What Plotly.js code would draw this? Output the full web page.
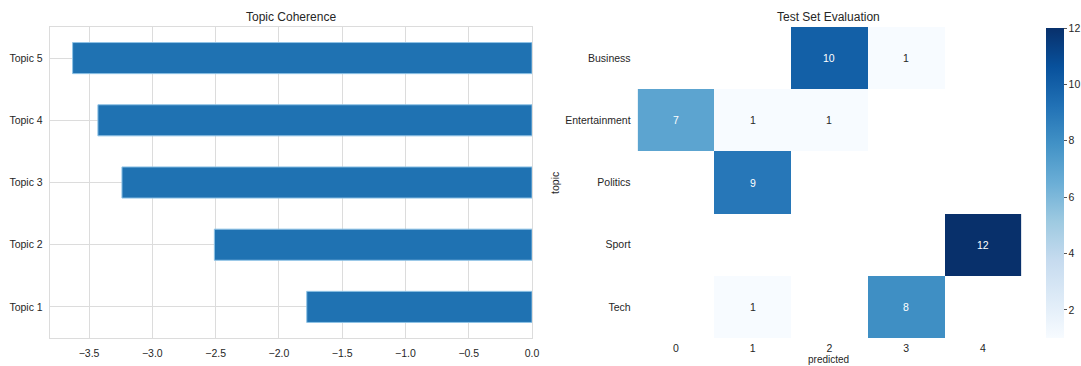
<!DOCTYPE html>
<html>
<head>
<meta charset="utf-8">
<script src="https://cdn.plot.ly/plotly-3.0.1.min.js"></script>
<style>html,body{margin:0;padding:0;background:#fff;}#chart{width:1081px;height:366px;}</style>
</head>
<body>
<div id="chart"></div>
<script>
// Left chart: topic coherence
const topics = ["Topic 1", "Topic 2", "Topic 3", "Topic 4", "Topic 5"];
const coherence = [-1.78, -2.51, -3.24, -3.43, -3.63];

// Right chart: confusion matrix (0 = masked)
const actualTopics = ["Business", "Entertainment", "Politics", "Sport", "Tech"];
const predictedLabels = ["0", "1", "2", "3", "4"];
const counts = [
  [0, 0, 10, 1, 0],
  [7, 1, 1, 0, 0],
  [0, 9, 0, 0, 0],
  [0, 0, 0, 0, 12],
  [0, 1, 0, 8, 0]
];
const cbTicks = [2, 4, 6, 8, 10, 12];

const W = 1081, H = 366;
const fx = p => p / W;
const fy = p => 1 - p / H;

const blues = [
  [0, "#f7fbff"], [0.125, "#deebf7"], [0.25, "#c6dbef"], [0.375, "#9ecae1"],
  [0.5, "#6baed6"], [0.625, "#4292c6"], [0.75, "#2171b5"], [0.875, "#08519c"], [1, "#08306b"]
];

const zMasked = counts.map(r => r.map(v => v === 0 ? null : v));
const vmin = 1, vmax = 12;

const fontFam = "Liberation Sans, Arial, sans-serif";
const txtCol = "#262626";
const tickSize = 10.5;

const traces = [
  {
    type: "bar", orientation: "h",
    x: coherence, y: topics,
    width: 0.5,
    marker: { color: "#1f72b2", line: { color: "#8fc3e6", width: 1 } },
    xaxis: "x", yaxis: "y",
    hoverinfo: "x+y"
  },
  {
    type: "heatmap",
    z: zMasked, x: predictedLabels, y: actualTopics,
    xaxis: "x2", yaxis: "y2",
    colorscale: blues, zmin: vmin, zmax: vmax,
    xgap: 0, ygap: 0,
    colorbar: {
      x: fx(1049.5), xanchor: "left", xpad: 0,
      y: 0.5, yanchor: "middle", ypad: 0,
      thickness: 18, thicknessmode: "pixels",
      len: 310, lenmode: "pixels",
      outlinewidth: 0,
      tickvals: cbTicks, ticks: "outside", ticklen: 3, tickcolor: "#555",
      tickfont: { size: tickSize, color: txtCol, family: fontFam }
    }
  }
];

const annotations = [];
counts.forEach((row, i) => {
  row.forEach((v, j) => {
    if (v === 0) return;
    annotations.push({
      xref: "x2", yref: "y2", x: predictedLabels[j], y: actualTopics[i],
      text: String(v), showarrow: false,
      font: { size: tickSize, family: fontFam, color: v > 4 ? "#ffffff" : txtCol }
    });
  });
});
annotations.push(
  { xref: "paper", yref: "paper", x: fx(292), y: fy(17), text: "Topic Coherence", showarrow: false,
    font: { size: 12, family: fontFam, color: txtCol }, xanchor: "center", yanchor: "middle" },
  { xref: "paper", yref: "paper", x: fx(832), y: fy(17), text: "Test Set Evaluation", showarrow: false,
    font: { size: 12, family: fontFam, color: txtCol }, xanchor: "center", yanchor: "middle" },
  { xref: "paper", yref: "paper", x: fx(557), y: fy(183), text: "topic", showarrow: false, textangle: -90,
    font: { size: tickSize, family: fontFam, color: txtCol }, xanchor: "center", yanchor: "middle" },
  { xref: "paper", yref: "paper", x: fx(832), y: 0, text: "predicted", showarrow: false,
    font: { size: 10, family: fontFam, color: txtCol }, xanchor: "center", yanchor: "bottom", yshift: -1 }
);

const layout = {
  width: W, height: H,
  margin: { l: 0, r: 0, t: 0, b: 0 },
  paper_bgcolor: "#ffffff", plot_bgcolor: "#ffffff",
  showlegend: false,
  font: { family: fontFam, size: tickSize, color: txtCol },
  xaxis: {
    domain: [fx(50), fx(534)], anchor: "y",
    range: [-3.81, 0], dtick: 0.5, tick0: 0, tickformat: ".1f",
    showgrid: true, gridcolor: "#dcdcdc", gridwidth: 1,
    zeroline: false, showline: true, mirror: true, linecolor: "#dcdcdc", linewidth: 1,
    ticks: "", ticklabelstandoff: 5, tickfont: { size: tickSize, color: txtCol }
  },
  yaxis: {
    domain: [fy(338), fy(27)], anchor: "x",
    type: "category", categoryorder: "array", categoryarray: topics,
    range: [-0.5, 4.5],
    showgrid: true, gridcolor: "#dcdcdc", gridwidth: 1,
    zeroline: false, showline: true, mirror: true, linecolor: "#dcdcdc", linewidth: 1,
    ticks: "", ticklabelstandoff: 4, tickfont: { size: tickSize, color: txtCol }
  },
  xaxis2: {
    domain: [fx(640), fx(1025)], anchor: "y2",
    type: "category", showgrid: false, zeroline: false, showline: false,
    ticks: "", ticklabelstandoff: 2, tickfont: { size: tickSize, color: txtCol }
  },
  yaxis2: {
    domain: [fy(338), fy(27)], anchor: "x2",
    type: "category", autorange: "reversed",
    showgrid: false, zeroline: false, showline: false,
    ticks: "", ticklabelstandoff: 6, tickfont: { size: tickSize, color: txtCol }
  },
  annotations: annotations
};

Plotly.newPlot("chart", traces, layout, { displayModeBar: false, staticPlot: true });
</script>
</body>
</html>
